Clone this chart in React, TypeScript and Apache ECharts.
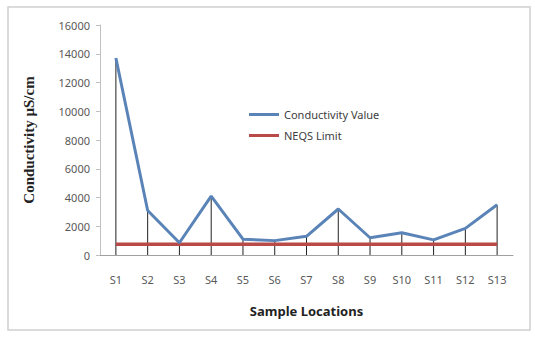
import React, { useEffect, useRef } from "react";
import * as echarts from "echarts";

const categories = ["S1", "S2", "S3", "S4", "S5", "S6", "S7", "S8", "S9", "S10", "S11", "S12", "S13"];
const conductivity = [13700, 3100, 850, 4100, 1100, 1000, 1300, 3200, 1200, 1550, 1050, 1850, 3500];
const neqsLimit = [750, 750, 750, 750, 750, 750, 750, 750, 750, 750, 750, 750, 750];
const yTicks = { min: 0, max: 16000, interval: 2000 };

export default function App() {
  const ref = useRef<HTMLDivElement>(null);
  useEffect(() => {
    document.body.style.margin = "0";
    const chart = echarts.init(ref.current!, null, { renderer: "svg" });
    chart.setOption({
      animation: false,
      backgroundColor: "#ffffff",
      textStyle: { fontFamily: "Noto Sans" },
      graphic: [
        {
          type: "rect",
          shape: { x: 8, y: 7, width: 522, height: 323 },
          style: { fill: "none", stroke: "#d0d0d0", lineWidth: 1.5 },
          silent: true,
        },
      ],
      grid: { left: 100, right: 22, top: 25, bottom: 84 },
      legend: {
        orient: "vertical",
        left: 244,
        top: 104,
        itemWidth: 30,
        itemHeight: 3,
        itemGap: 10,
        icon: "rect",
        textStyle: { fontSize: 11, color: "#404040", fontFamily: "Noto Sans" },
        data: ["Conductivity Value", "NEQS Limit"],
      },
      xAxis: {
        type: "category",
        data: categories,
        boundaryGap: true,
        axisLine: { lineStyle: { color: "#a0a0a0", width: 1 } },
        axisTick: { show: false },
        axisLabel: { color: "#595959", fontSize: 11, margin: 19 },
        name: "Sample Locations",
        nameLocation: "middle",
        nameGap: 49,
        nameTextStyle: { fontSize: 13, fontWeight: "bold", color: "#222", fontFamily: "Noto Sans", verticalAlign: "top" },
      },
      yAxis: {
        type: "value",
        min: yTicks.min,
        max: yTicks.max,
        interval: yTicks.interval,
        splitLine: { show: false },
        axisLine: { show: true, lineStyle: { color: "#c0c0c0", width: 1 } },
        axisTick: { show: true, length: 4, lineStyle: { color: "#c0c0c0" } },
        axisLabel: { color: "#595959", fontSize: 11, margin: 10, formatter: (v: number) => String(v) },
        name: "Conductivity µS/cm",
        nameLocation: "middle",
        nameGap: 64,
        nameTextStyle: { fontSize: 15, fontWeight: "bold", color: "#222", fontFamily: "Liberation Serif" },
      },
      series: [
        {
          name: "drop",
          type: "bar",
          data: conductivity,
          barWidth: 1,
          itemStyle: { color: "#222222" },
          z: 1,
          silent: true,
        },
        {
          name: "NEQS Limit",
          type: "line",
          data: neqsLimit,
          symbol: "none",
          lineStyle: { color: "#b84a48", width: 3.5 },
          itemStyle: { color: "#b84a48" },
          z: 2,
        },
        {
          name: "Conductivity Value",
          type: "line",
          data: conductivity,
          symbol: "none",
          lineStyle: { color: "#5a84b8", width: 3 },
          itemStyle: { color: "#5a84b8" },
          z: 3,
        },
      ],
    });
    return () => chart.dispose();
  }, []);
  return <div ref={ref} style={{ width: 535, height: 339 }} />;
}
